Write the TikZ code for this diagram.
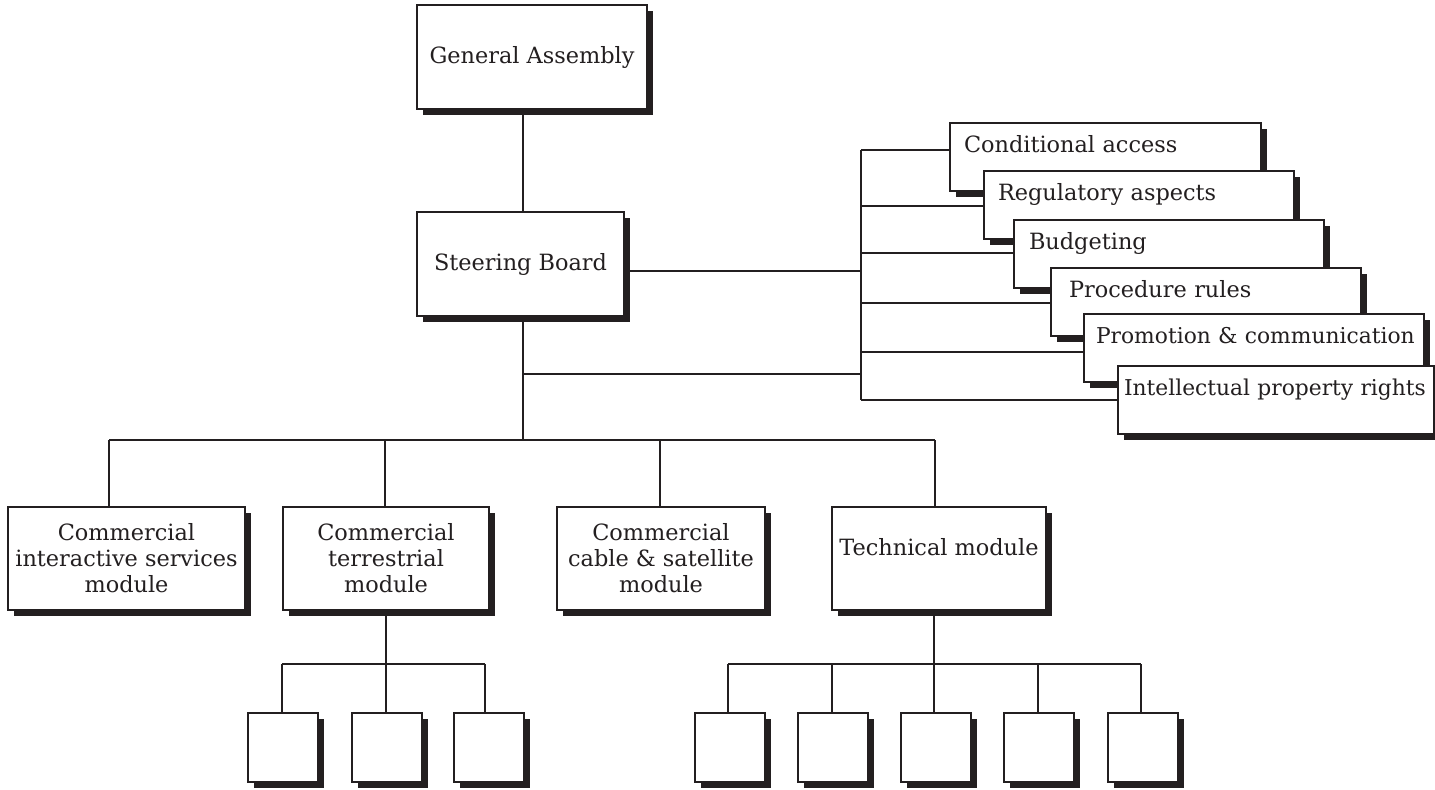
\documentclass[tikz,border=0pt]{standalone}
\usepackage{fontspec}
\setmainfont{DejaVu Serif}
\usetikzlibrary{shadows,backgrounds}
\definecolor{ink}{RGB}{35,31,32}
\begin{document}
\begin{tikzpicture}[x=0.5pt,y=-0.5pt,
  every node/.style={font=\fontsize{11.2}{13}\selectfont, text=ink},
  box/.style={draw=ink, line width=1pt, fill=white, rectangle, inner sep=0pt, align=center,
    drop shadow={shadow xshift=3pt, shadow yshift=-3pt, fill=ink, opacity=1}},
  sidebox/.style={box, anchor=north west, align=left, inner xsep=0pt, inner ysep=0pt,
    text height=14.5pt, text depth=19.5pt},
  narrowtext/.style={font=\fontsize{10.9}{13}\selectfont},
  leaf/.style={box, minimum width=35pt, minimum height=34.5pt},
  modbox/.style={box, minimum height=51.5pt},
  link/.style={draw=ink, line width=0.9pt}]
\useasboundingbox (0,0) rectangle (1435,789);

% top of the hierarchy
\node[box, minimum width=115pt, minimum height=52pt] (ga) at (532,57) {General Assembly};
\node[box, minimum width=103.5pt, minimum height=52pt] (sb) at (520.5,264) {Steering Board};

% stacked working groups, each one overlapping the previous
\node[sidebox, text width=155.5pt] (rb1) at (949,122)  {\hspace*{7pt}Conditional access};
\node[sidebox, text width=155pt]   (rb2) at (983,170)  {\hspace*{7pt}Regulatory aspects};
\node[sidebox, text width=155pt]   (rb3) at (1013,219) {\hspace*{7.5pt}Budgeting};
\node[sidebox, text width=155pt]   (rb4) at (1050,267) {\hspace*{9pt}Procedure rules};
\node[sidebox, narrowtext, text width=170pt] (rb5) at (1083,313) {\hspace*{6pt}\mbox{Promotion \& communication}};
\node[sidebox, narrowtext, text width=158pt] (rb6) at (1117,365) {\hspace*{3pt}\mbox{Intellectual property rights}};

% modules
\node[modbox, minimum width=118.5pt] (mod1) at (126.5,558.5) {Commercial\\interactive services\\module};
\node[modbox, minimum width=103pt]   (mod2) at (386,558.5)   {Commercial\\terrestrial\\module};
\node[modbox, minimum width=104pt]   (mod3) at (661,558.5)   {Commercial\\cable \& satellite\\module};
\node[box, minimum width=107pt, inner ysep=0pt, text height=24.5pt, text depth=27pt] (mod4) at (939,558) {Technical module};

% sub-groups
\foreach \i/\x in {1/283,2/386.5,3/489}
  \node[leaf] (t\i) at (\x,747.5) {};
\foreach \i/\x in {1/729.5,2/832.5,3/936,4/1038.5,5/1142.5}
  \node[leaf] (x\i) at (\x,747.5) {};

% junction points of the connector tree
\coordinate (k1) at (523,374);
\coordinate (k2) at (523,440);
\coordinate (js) at (861,271);
\foreach \i/\y in {1/150,2/206,3/253,4/303,5/352,6/400}
  \coordinate (j\i) at (861,\y);
\foreach \i/\x in {1/109,2/385,3/660,4/935}
  \coordinate (m\i) at (\x,440);
\foreach \i/\x in {1/282,2/386,3/485}
  \coordinate (tb\i) at (\x,664);
\foreach \i/\x in {1/728,2/832,3/934,4/1038,5/1141}
  \coordinate (xb\i) at (\x,664);

\begin{pgfonlayer}{background}
  \draw[link] (ga.south -| k1) -- (sb.north -| k1);
  \draw[link] (sb.south -| k1) -- (k2);
  \draw[link] (k1) -- (k1 -| j1);
  \draw[link] (sb.east |- js) -- (js);
  \draw[link] (j1) -- (j6);
  \foreach \i in {1,...,6}
    \draw[link] (j\i) -- (j\i -| rb\i.west);
  \draw[link] (m1) -- (m4);
  \foreach \i in {1,...,4}
    \draw[link] (m\i) -- (m\i |- mod\i.north);
  \draw[link] (mod2.south -| tb2) -- (tb2);
  \draw[link] (tb1) -- (tb3);
  \foreach \i in {1,2,3}
    \draw[link] (tb\i) -- (tb\i |- t\i.north);
  \draw[link] (mod4.south -| xb3) -- (xb3);
  \draw[link] (xb1) -- (xb5);
  \foreach \i in {1,...,5}
    \draw[link] (xb\i) -- (xb\i |- x\i.north);
\end{pgfonlayer}
\end{tikzpicture}
\end{document}
